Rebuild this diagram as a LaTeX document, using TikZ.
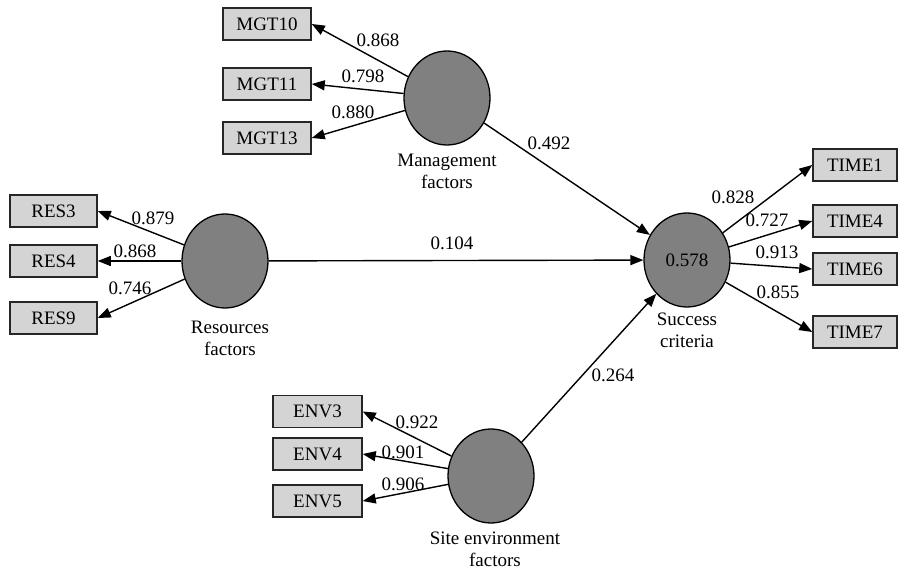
\documentclass[tikz,border=0pt]{standalone}
\usepackage{fontspec}
\setmainfont{Liberation Serif}
\usetikzlibrary{positioning, arrows.meta, shapes.geometric}

\definecolor{latentgray}{RGB}{128,128,128}
\definecolor{boxgray}{RGB}{212,212,212}

\begin{document}
\begin{tikzpicture}[
    x=1pt, y=-1pt,
    font=\fontsize{19}{22}\selectfont,
    latent/.style={
        ellipse, draw=black, line width=1.3pt,
        fill=latentgray,
        minimum width=86, minimum height=94,
        inner sep=0pt
    },
    item/.style={
        rectangle, draw=black!85, line width=1.5pt,
        fill=boxgray,
        minimum width=88, minimum height=32,
        inner sep=0pt
    },
    caption/.style={align=center, inner sep=0pt},
    val/.style={inner sep=0pt},
    link/.style={-{Triangle[length=13pt, width=10pt]}, line width=1.4pt}
]
\useasboundingbox (0,0) rectangle (898,572);

% ============ Latent variables ============
\node[latent] (mgmt) at (447,98) {};
\node[latent] (res) at (225,261) {};
\node[latent] (succ) at (687,260) {0.578};
\node[latent] (env) at (491,476) {};

\node[caption] (mgmtcap) at (447,171) {Management\\factors};
\node[caption] (rescap) at (230,338) {Resources\\factors};
\node[caption] (succcap) at (687,330) {Success\\criteria};
\node[caption] (envcap) at (495,549) {Site environment\\factors};

% ============ Indicators ============
\node[item] (mgt10) at (267,24) {MGT10};
\node[item] (mgt11) at (267,84) {MGT11};
\node[item] (mgt13) at (267,138) {MGT13};

\node[item, minimum width=87] (res3) at (53.5,211) {RES3};
\node[item, minimum width=87] (res4) at (53.5,261) {RES4};
\node[item, minimum width=87] (res9) at (53.5,318) {RES9};

\node[item, minimum width=84] (time1) at (855,165) {TIME1};
\node[item, minimum width=84] (time4) at (855,221) {TIME4};
\node[item, minimum width=84] (time6) at (855,269) {TIME6};
\node[item, minimum width=84] (time7) at (855,332) {TIME7};

\node[item, minimum width=89] (env3) at (317.5,411.5) {ENV3};
\node[item, minimum width=89] (env4) at (317.5,454) {ENV4};
\node[item, minimum width=89] (env5) at (317.5,501) {ENV5};

% ============ Loadings ============
\draw[link] (mgmt) -- (mgt10.east);
\draw[link] (mgmt) -- (mgt11.east);
\draw[link] (mgmt) -- (mgt13.east);
\node[val] at (378,40) {0.868};
\node[val] at (363,76) {0.798};
\node[val] at (353,112) {0.880};

\draw[link] (res) -- (res3.east);
\draw[link] (res) -- (res4.east);
\draw[link] (res) -- (res9.east);
\node[val] at (153,218) {0.879};
\node[val] at (135,251) {0.868};
\node[val] at (130,288) {0.746};

\draw[link] (succ) -- (time1.west);
\draw[link] (succ) -- (time4.west);
\draw[link] (succ) -- (time6.west);
\draw[link] (succ) -- (time7.west);
\node[val] at (733,197) {0.828};
\node[val] at (767,220) {0.727};
\node[val] at (777,252) {0.913};
\node[val] at (778,292) {0.855};

\draw[link] (env) -- (env3.east);
\draw[link] (env) -- (env4.east);
\draw[link] (env) -- (env5.east);
\node[val] at (417,422) {0.922};
\node[val] at (403,452) {0.901};
\node[val] at (403,484) {0.906};

% ============ Paths ============
\draw[link] (mgmt) -- (succ);
\draw[link] (res) -- (succ);
\draw[link] (env) -- (succ);
\node[val] at (549,143) {0.492};
\node[val] at (452,243) {0.104};
\node[val] at (613,375) {0.264};

\end{tikzpicture}
\end{document}
